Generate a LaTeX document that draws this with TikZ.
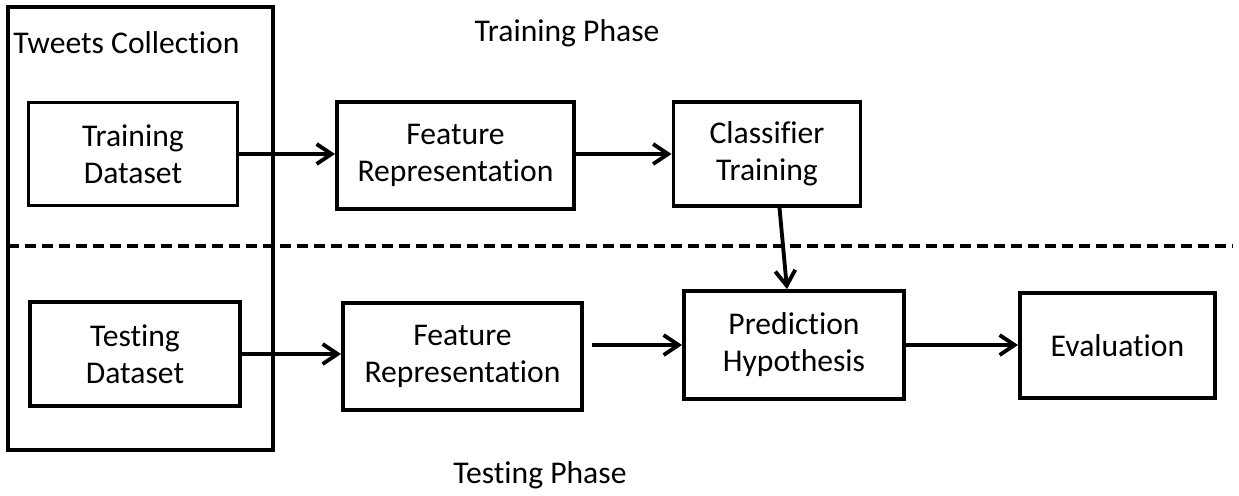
\documentclass[tikz,border=0pt]{standalone}
\usepackage{fontspec}
\setmainfont[Ligatures=NoCommon]{Carlito}
\usetikzlibrary{arrows.meta}

\begin{document}
\begin{tikzpicture}[x=0.02cm,y=-0.02cm,
    stage/.style={draw,line width=2.2pt,align=center,inner sep=0pt,font=\fontsize{18}{21}\selectfont},
    phase/.style={font=\fontsize{18}{21}\selectfont},
    flow/.style={line width=2.2pt,-{Straight Barb[length=0.3cm,width=0.4cm]}}]
    \useasboundingbox (0,0) rectangle (1239,495);

    % Tweets collection
    \node[stage,minimum width=265*0.02cm,minimum height=443*0.02cm] (tweets) at (140.5,228.5) {};
    \node[phase,anchor=west,inner sep=0pt] (tweetslbl) at (13,43) {Tweets Collection};

    % Phase titles
    \node[phase] (trainlbl) at (567,33) {Training Phase};
    \node[phase] (testlbl) at (540,475) {Testing Phase};

    % Training row
    \node[stage,minimum width=209*0.02cm,minimum height=103*0.02cm] (trdata) at (133,154) {Training\\Dataset};
    \node[stage,minimum width=237*0.02cm,minimum height=107*0.02cm] (feat1) at (455.5,155.5) {Feature\\Representation};
    \node[stage,minimum width=187*0.02cm,minimum height=104*0.02cm] (clf) at (767,154) {Classifier\\Training};

    % Separator
    \coordinate (sepL) at (8,246);
    \coordinate (sepR) at (1232,246);
    \draw[line width=2.2pt,dash pattern=on 0.22cm off 0.12cm] (sepL) -- (sepR);

    % Testing row
    \node[stage,minimum width=210*0.02cm,minimum height=104*0.02cm] (tedata) at (135,354) {Testing\\Dataset};
    \node[stage,minimum width=239*0.02cm,minimum height=107*0.02cm] (feat2) at (462.5,356.5) {Feature\\Representation};
    \node[stage,minimum width=220*0.02cm,minimum height=108*0.02cm] (pred) at (794,345) {Prediction\\Hypothesis};
    \node[stage,minimum width=195*0.02cm,minimum height=105*0.02cm] (eval) at (1117.5,345.5) {Evaluation};

    % Arrows
    \draw[flow] (trdata.east) -- (trdata.east -| feat1.west);
    \draw[flow] (feat1.east |- trdata.east) -- (trdata.east -| clf.west);
    \draw[flow] ([xshift=0.25cm]clf.south) -- ([xshift=-0.14cm]pred.north);
    \draw[flow] (tedata.east) -- (tedata.east -| feat2.west);
    \coordinate (f2out) at ([xshift=0.16cm]feat2.east);
    \draw[flow] (f2out |- pred.west) -- (pred.west);
    \draw[flow] (pred.east) -- (pred.east -| eval.west);
\end{tikzpicture}
\end{document}
